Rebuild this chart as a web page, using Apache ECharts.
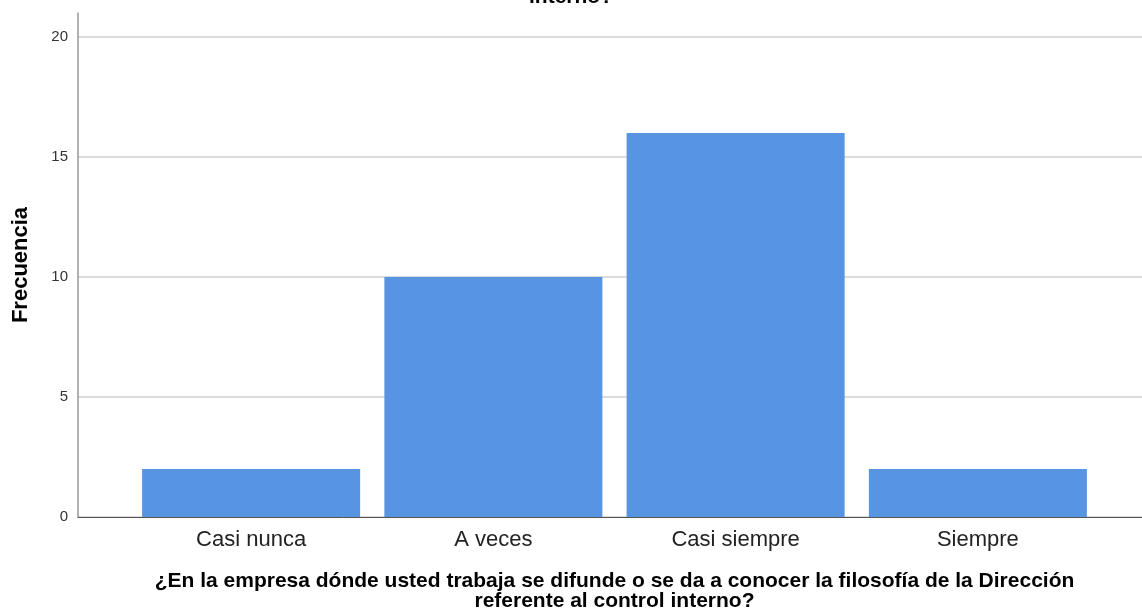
<!DOCTYPE html>
<html>
<head>
<meta charset="utf-8">
<script src="https://cdn.jsdelivr.net/npm/echarts@6/dist/echarts.min.js"></script>
<style>
  html, body { margin: 0; padding: 0; background: #ffffff; }
  #chart { width: 1142px; height: 615px; }
</style>
</head>
<body>
<div id="chart"></div>
<script>
// Frequency of answers per response category
const categories = ['Casi nunca', 'A veces', 'Casi siempre', 'Siempre'];
const frequencies = [2, 10, 16, 2];
const yTicks = [0, 5, 10, 15, 20];

const titleTail = 'interno?';
const xAxisTitle = '¿En la empresa dónde usted trabaja se difunde o se da a conocer la filosofía de la Dirección\nreferente al control interno?';
const yAxisTitle = 'Frecuencia';

const FONT = '"Liberation Sans", Arial, sans-serif';
const Y_MAX = 21;

const chart = echarts.init(document.getElementById('chart'), null, { renderer: 'canvas' });

chart.setOption({
  backgroundColor: '#ffffff',
  animation: false,
  title: {
    text: titleTail,
    left: 'center',
    top: -13,
    padding: 0,
    textStyle: { fontFamily: FONT, fontSize: 21, fontWeight: 'bold', color: '#000' }
  },
  grid: [
    // frame with the value axis and gridlines
    { left: 78, right: 0, top: 13, bottom: 98, outerBoundsMode: 'none', containLabel: false },
    // inner area holding the bars
    { left: 130, right: 43, top: 13, bottom: 98, outerBoundsMode: 'none', containLabel: false }
  ],
  xAxis: [
    {
      gridIndex: 0, type: 'value', min: 0, max: 1,
      axisLine: { show: true, onZero: false, lineStyle: { color: '#555', width: 1 } },
      axisTick: { show: false }, axisLabel: { show: false }, splitLine: { show: false }
    },
    {
      gridIndex: 1, type: 'category', data: categories,
      axisLine: { show: false }, axisTick: { show: false },
      axisLabel: { margin: 12, fontFamily: FONT, fontSize: 22, color: '#222' },
      name: xAxisTitle, nameLocation: 'middle', nameGap: 54,
      nameTextStyle: { fontFamily: FONT, fontSize: 21, fontWeight: 'bold', color: '#000', lineHeight: 20 }
    }
  ],
  yAxis: [
    {
      gridIndex: 0, type: 'value', min: 0, max: Y_MAX, interval: 5,
      axisLine: { show: true, lineStyle: { color: '#999', width: 1.5 } },
      axisTick: { show: false },
      axisLabel: {
        showMaxLabel: false, margin: 10, fontFamily: FONT, fontSize: 15, color: '#333',
        formatter: v => (yTicks.indexOf(v) >= 0 ? String(v) : '')
      },
      splitLine: { show: true, showMaxLine: false, lineStyle: { color: '#cfcfcf', width: 1.5 } },
      name: yAxisTitle, nameLocation: 'middle', nameGap: 46, nameRotate: 90,
      nameTextStyle: { fontFamily: FONT, fontSize: 22, fontWeight: 'bold', color: '#000' }
    },
    {
      gridIndex: 1, type: 'value', min: 0, max: Y_MAX, interval: 5, show: false
    }
  ],
  series: [
    {
      type: 'bar', xAxisIndex: 1, yAxisIndex: 1,
      data: frequencies,
      barCategoryGap: '10%',
      itemStyle: { color: '#5795e3' }
    }
  ]
});
</script>
</body>
</html>
